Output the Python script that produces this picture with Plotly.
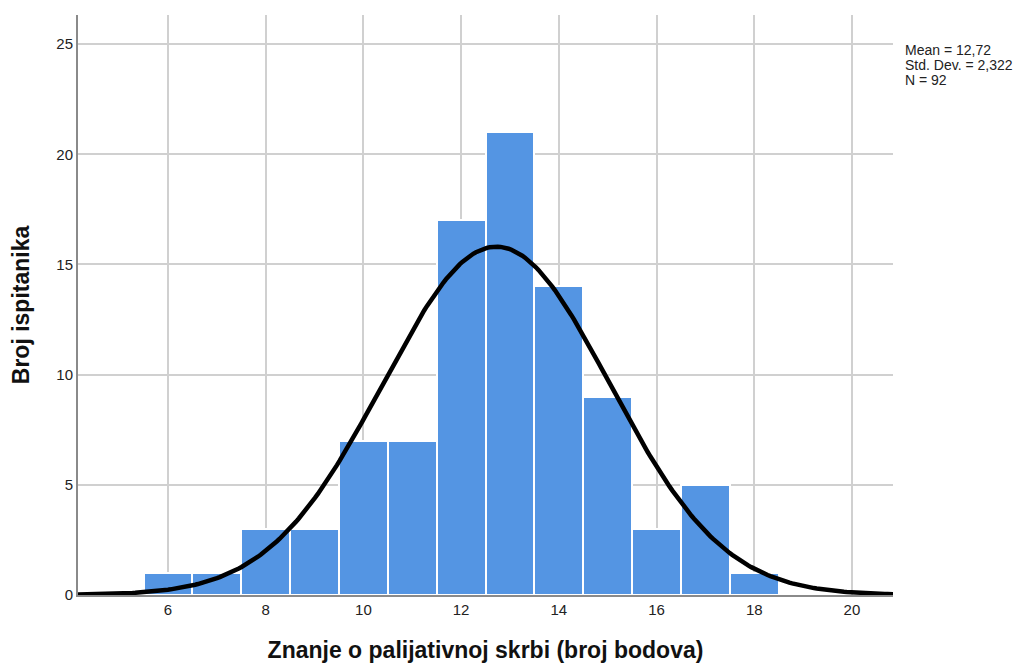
import numpy as np
import plotly.graph_objects as go

# histogram counts (score -> number of respondents)
scores = [6, 7, 8, 9, 10, 11, 12, 13, 14, 15, 16, 17, 18]
counts = [1, 1, 3, 3, 7, 7, 17, 21, 14, 9, 3, 5, 1]

mean_val = 12.72
std_val = 2.322
n_val = 92

x_ticks = [6, 8, 10, 12, 14, 16, 18, 20]
y_ticks = [0, 5, 10, 15, 20, 25]

BAR_COLOR = '#5495E3'
FONT = 'Liberation Sans, Arial, sans-serif'

# fitted normal curve scaled to counts (bin width 1)
xs = np.linspace(4.158, 20.84, 300)
ys = n_val / (std_val * np.sqrt(2 * np.pi)) * np.exp(-0.5 * ((xs - mean_val) / std_val) ** 2)

fig = go.Figure()

fig.add_trace(go.Bar(
    x=scores,
    y=counts,
    width=1,
    marker=dict(color=BAR_COLOR, line=dict(color='white', width=2)),
    hovertemplate='%{x}: %{y}<extra></extra>'
))

fig.add_trace(go.Scatter(
    x=xs,
    y=ys,
    mode='lines',
    line=dict(color='black', width=4.5),
    hoverinfo='skip'
))

# stats box, one annotation per line to keep the tight spacing
stats_lines = [
    f'Mean = {str(mean_val).replace(".", ",")}',
    f'Std. Dev. = {str(std_val).replace(".", ",")}',
    f'N = {n_val}',
]
for i, line in enumerate(stats_lines):
    fig.add_annotation(
        x=1.0125, y=0.957 - i * 0.0262, xref='paper', yref='paper',
        xanchor='left', yanchor='top', align='left', showarrow=False,
        text=line, font=dict(family=FONT, size=14, color='#222')
    )

fig.update_layout(
    width=1024, height=664,
    margin=dict(l=70, r=139, t=7, b=77),
    paper_bgcolor='white', plot_bgcolor='white',
    showlegend=False, bargap=0,
    font=dict(family=FONT, size=15, color='#222'),
    xaxis=dict(
        range=[4.158, 20.84], tickvals=x_ticks,
        showgrid=True, gridcolor='#d0d0d0', gridwidth=1.5,
        showline=True, linecolor='#8a8a8a', linewidth=2,
        ticks='', zeroline=False,
        title=dict(text='<b>Znanje o palijativnoj skrbi (broj bodova)</b>',
                   font=dict(size=23, color='#111'), standoff=25)
    ),
    yaxis=dict(
        range=[0, 26.32], tickvals=y_ticks,
        showgrid=True, gridcolor='#d0d0d0', gridwidth=1.5,
        showline=True, linecolor='#8a8a8a', linewidth=2,
        ticks='', zeroline=False,
        title=dict(text='<b>Broj ispitanika</b>',
                   font=dict(size=23, color='#111'), standoff=24)
    )
)

fig.write_html("out.html")
